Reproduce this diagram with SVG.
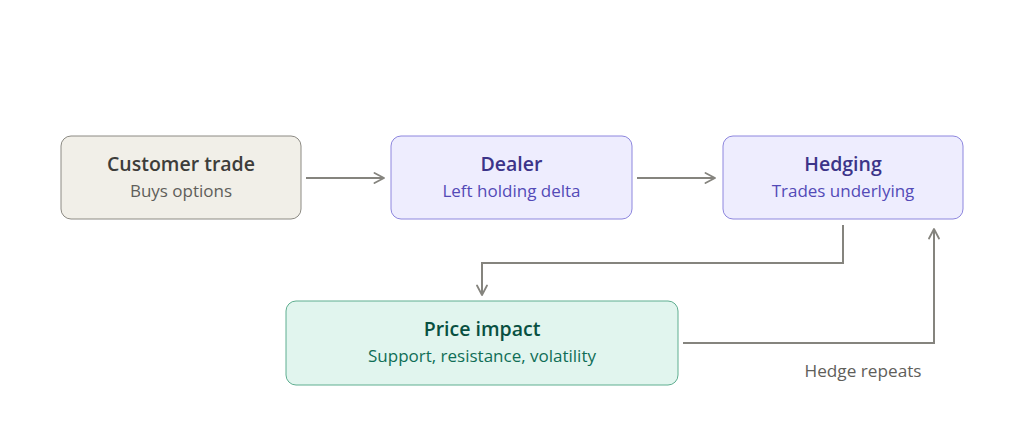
<svg xmlns="http://www.w3.org/2000/svg" width="1024" height="437" viewBox="0 0 1024 437">
<defs>
<marker id="arr" viewBox="0 0 12 12" refX="11" refY="6" markerWidth="12" markerHeight="12" markerUnits="userSpaceOnUse" orient="auto">
<path d="M1.5 1 L11 6 L1.5 11" fill="none" stroke="#85847e" stroke-width="1.8" stroke-linecap="round" stroke-linejoin="round"/>
</marker>
<style>
.t{font-family:"Open Sans","Noto Sans","Liberation Sans",sans-serif;text-anchor:middle}
.h{font-size:19.5px;font-weight:600}
.s{font-size:17px}
.c{fill:none;stroke:#85847e;stroke-width:2;marker-end:url(#arr)}
</style>
</defs>
<rect width="1024" height="437" fill="#ffffff"/>
<g id="connectors">
<path class="c" d="M306 178 H384"/>
<path class="c" d="M637 178 H715"/>
<path class="c" d="M843 225 V263 H482 V295"/>
<path class="c" d="M683 343 H934 V229"/>
<text x="863" y="377" class="t" style="font-size:17.2px" fill="#5f5e5a">Hedge repeats</text>
</g>
<g id="customer">
<rect x="61" y="136" width="240" height="83" rx="10" fill="#f1efe8" stroke="#8c8a83" stroke-width="1"/>
<text x="181" y="171" class="t h" fill="#3d3d3a">Customer trade</text>
<text x="181" y="197" class="t s" fill="#5f5e5a">Buys options</text>
</g>
<g id="dealer">
<rect x="391" y="136" width="241" height="83" rx="10" fill="#eeedfe" stroke="#8d86de" stroke-width="1"/>
<text x="511.5" y="171" class="t h" fill="#3c3489">Dealer</text>
<text x="511.5" y="197" class="t s" fill="#534ab7">Left holding delta</text>
</g>
<g id="hedging">
<rect x="723" y="136" width="240" height="83" rx="10" fill="#eeedfe" stroke="#8d86de" stroke-width="1"/>
<text x="843" y="171" class="t h" fill="#3c3489">Hedging</text>
<text x="843" y="197" class="t s" fill="#534ab7">Trades underlying</text>
</g>
<g id="price">
<rect x="286" y="301" width="392" height="84" rx="10" fill="#e1f5ee" stroke="#5fae90" stroke-width="1"/>
<text x="482" y="336" class="t h" fill="#085041">Price impact</text>
<text x="482" y="362" class="t s" fill="#0f6e56">Support, resistance, volatility</text>
</g>
</svg>
